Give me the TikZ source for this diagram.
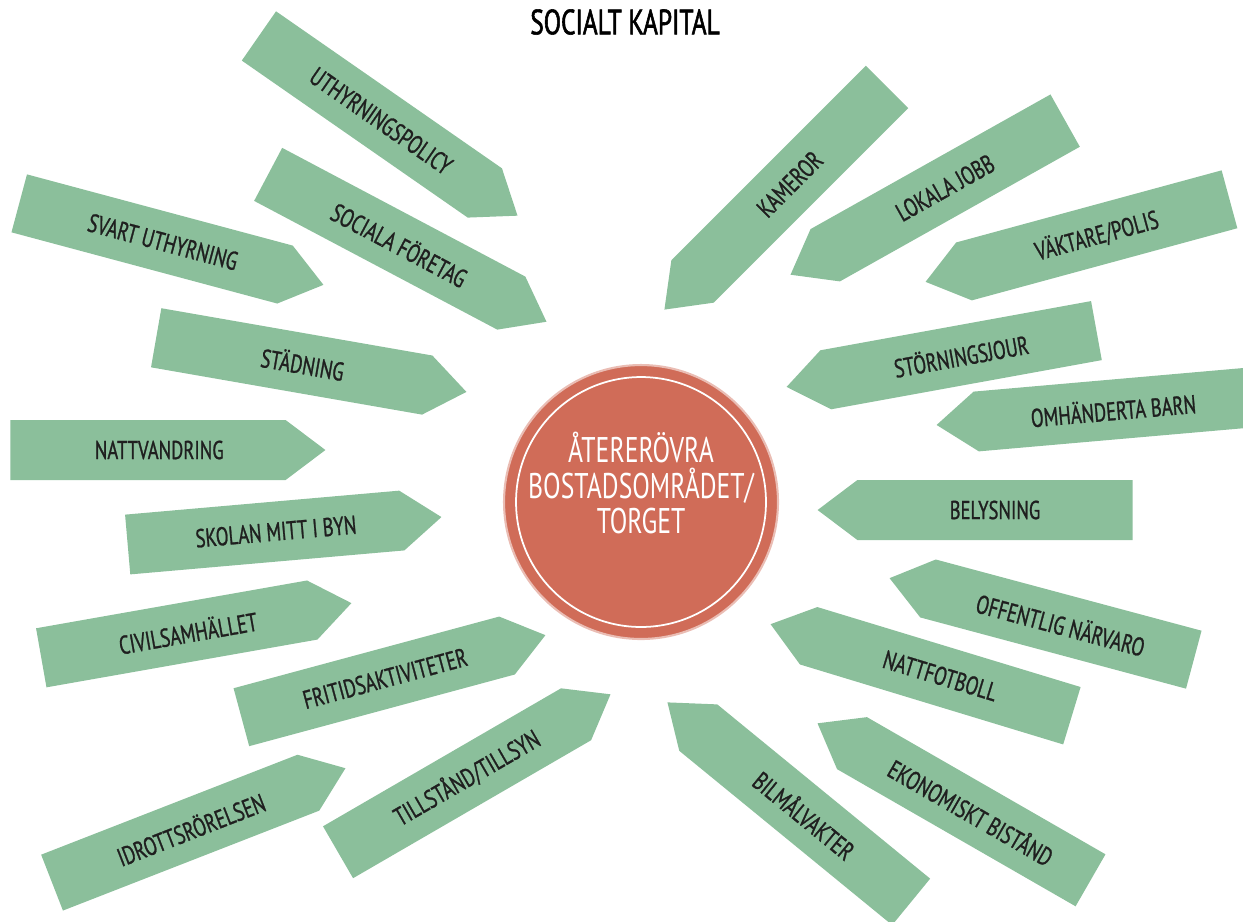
\documentclass[tikz,border=0pt]{standalone}
\usepackage{fontspec}
\setmainfont{PT Sans}[FakeStretch=0.72]
\newfontfamily\pilfont{PT Sans}[FakeStretch=0.72, FakeBold=1]
\newfontfamily\rubrikfont{PT Sans}[FakeStretch=0.72, FakeBold=1.6]
\usetikzlibrary{shapes.symbols}
\definecolor{pilgron}{RGB}{139,191,155}
\definecolor{kortegel}{RGB}{208,108,88}
\begin{document}
\begin{tikzpicture}[x=0.02cm, y=-0.02cm]
	\tikzstyle{Pil} = [signal, signal pointer angle=74, minimum width=6.3cm, minimum height=1.2cm, inner sep=0pt, fill=pilgron, text=black!88, font=\pilfont\fontsize{14.7}{16}\selectfont]
	\tikzstyle{PilH} = [Pil, signal to=east, anchor=east, execute at begin node={\hspace*{0.45cm}}]
	\tikzstyle{PilV} = [Pil, signal to=west, anchor=west]
	\tikzstyle{Kor} = [circle, minimum size=5.48cm, fill=kortegel, draw=kortegel!45, line width=1.2pt]
	
	\useasboundingbox (0,0) rectangle (1243,921);
	\node (rubrik) at (625,22) {\rubrikfont\fontsize{20}{22}\selectfont SOCIALT KAPITAL};
	
	% vänster sida
	\node (uthyr) [PilH, rotate=-34.8] at (518,216) {UTHYRNINGSPOLICY};
	\node (socfor) [PilH, rotate=-27.9] at (547,322) {SOCIALA FÖRETAG};
	\node (svart) [PilH, rotate=-15] at (324,285) {SVART UTHYRNING};
	\node (stad) [PilH, rotate=-9.9] at (467,392) {STÄDNING};
	\node (nattv) [PilH] at (326,450) {NATTVANDRING};
	\node (skolan) [PilH, rotate=5] at (442,517) {SKOLAN MITT I BYN};
	\node (civil) [PilH, rotate=10] at (352,603) {CIVILSAMHÄLLET};
	\node (fritid) [PilH, rotate=15.1] at (546,635) {FRITIDSAKTIVITETER};
	\node (idrott) [PilH, rotate=21.3] at (346,768) {IDROTTSRÖRELSEN};
	\node (tillst) [PilH, rotate=30.1] at (611,694) {TILLSTÅND/TILLSYN};
	
	% höger sida
	\node (kameror) [PilV, rotate=45] at (664,310) {KAMEROR};
	\node (lokala) [PilV, rotate=29.3] at (790,275) {LOKALA JOBB};
	\node (vaktare) [PilV, rotate=15.2] at (925,282) {VÄKTARE/POLIS};
	\node (storn) [PilV, rotate=10.3] at (786,387) {STÖRNINGSJOUR};
	\node (omhand) [PilV, rotate=5] at (936,425) {OMHÄNDERTA BARN};
	\node (belys) [PilV] at (817,510) {BELYSNING};
	\node (offent) [PilV, rotate=-15] at (889,578) {OFFENTLIG NÄRVARO};
	\node (nattfot) [PilV, rotate=-16.9] at (770,624) {NATTFOTBOLL};
	\node (ekonom) [PilV, rotate=-29.9] at (817,723) {EKONOMISKT BISTÅND};
	\node (bilmal) [PilV, rotate=-39.3] at (667,702) {BILMÅLVAKTER};
	
	% mitten
	\node (kor) [Kor] at (641,502) {};
	\draw [white, line width=1pt] (kor.center) circle [radius=2.5cm];
	\node (kortext) [text=white, align=center, font=\fontsize{20.3}{20}\selectfont] at ([yshift=0.38cm]kor.center) {ÅTERERÖVRA\\BOSTADSOMRÅDET/\\TORGET};
\end{tikzpicture}
\end{document}
